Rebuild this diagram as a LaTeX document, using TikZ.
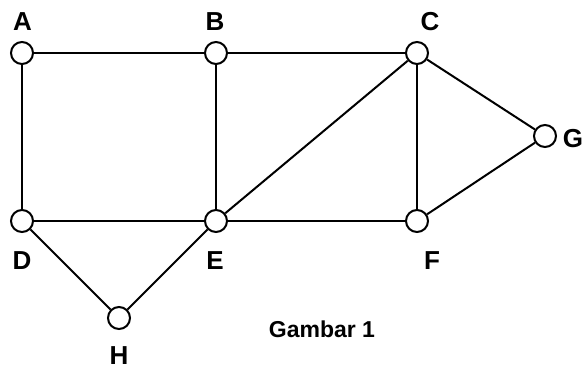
\documentclass[tikz,border=0pt]{standalone}
\usepackage{fontspec}
\setmainfont{Liberation Sans}
\begin{document}
\begin{tikzpicture}[x=1pt,y=-1pt,
  vert/.style={circle,draw,line width=2pt,fill=white,minimum size=22pt,inner sep=0pt},
  lbl/.style={font=\fontsize{26}{26}\selectfont\bfseries,inner sep=0pt},
  edge/.style={line width=2pt}]
\useasboundingbox (0,0) rectangle (584,369);
\node[vert] (A) at (22,53) {};
\node[vert] (B) at (216,53) {};
\node[vert] (C) at (417,53) {};
\node[vert] (G) at (545,136) {};
\node[vert] (D) at (22,221) {};
\node[vert] (E) at (216,221) {};
\node[vert] (F) at (417,221) {};
\node[vert] (H) at (119,318) {};
\draw[edge] (A) -- (B);
\draw[edge] (A) -- (D);
\draw[edge] (B) -- (C);
\draw[edge] (B) -- (E);
\draw[edge] (C) -- (E);
\draw[edge] (C) -- (F);
\draw[edge] (C) -- (G);
\draw[edge] (D) -- (E);
\draw[edge] (E) -- (F);
\draw[edge] (F) -- (G);
\draw[edge] (D) -- (H);
\draw[edge] (E) -- (H);
\node[lbl] (lA) at (22.5,22) {A};
\node[lbl] (lB) at (215,22) {B};
\node[lbl] (lC) at (430,22) {C};
\node[lbl] (lG) at (573,139) {G};
\node[lbl] (lD) at (22,261) {D};
\node[lbl] (lE) at (215,261) {E};
\node[lbl] (lF) at (432,261) {F};
\node[lbl] (lH) at (119,356) {H};
\node[lbl,font=\fontsize{23}{23}\selectfont\bfseries] (cap) at (322,329) {Gambar 1};
\end{tikzpicture}
\end{document}
